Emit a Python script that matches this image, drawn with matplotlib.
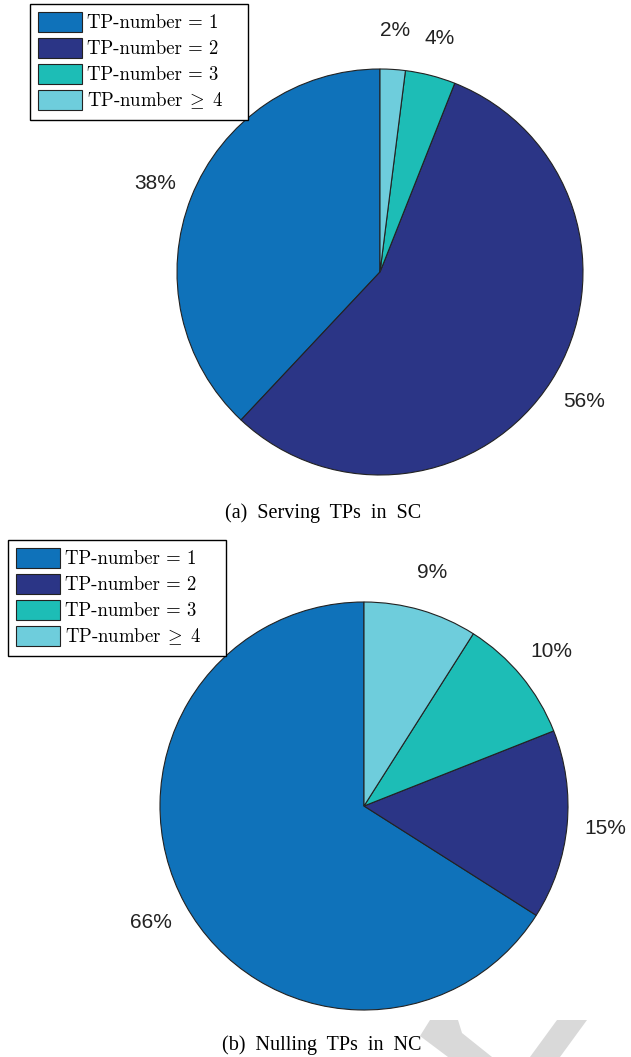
import matplotlib
matplotlib.use('Agg')
import matplotlib.pyplot as plt
from matplotlib.patches import Polygon, Rectangle

W, H = 631, 1057

legend_labels = ['TP-number = 1', 'TP-number = 2', 'TP-number = 3', r'TP-number$\;\geq\;$4']
colors = ['#0f72ba', '#2b3586', '#1dbdb6', '#6ecddc']
serving_sc = [38, 56, 4, 2]
nulling_nc = [66, 15, 10, 9]
captions = ['(a)  Serving  TPs  in  SC', '(b)  Nulling  TPs  in  NC']

plt.rcParams['mathtext.fontset'] = 'cm'

fig = plt.figure(figsize=(W / 100, H / 100), dpi=100)

# centre (px), radius (px), legend box (px), caption centre (px)
panels = [
    (serving_sc, (380, 272), 203, (30, 4, 218, 116), (323, 513), captions[0]),
    (nulling_nc, (364, 806), 204, (8, 540, 218, 116), (322, 1045), captions[1]),
]

half = 1.3
for vals, (cx, cy), r, (lx, ly, lw, lh), (tx, ty), cap in panels:
    size = 2 * r * half
    ax = fig.add_axes([(cx - size / 2) / W, (H - cy - size / 2) / H, size / W, size / H])
    wedges, _, autotexts = ax.pie(
        vals, colors=colors, startangle=90, counterclock=True,
        autopct='%d%%', pctdistance=1.19,
        wedgeprops=dict(edgecolor='#222222', linewidth=0.8),
        textprops=dict(family='Liberation Sans', fontsize=15, color='#222222'))
    ax.set_xlim(-half, half)
    ax.set_ylim(-half, half)
    ax.set_aspect('equal')
    ax.axis('off')
    for t in autotexts:
        t.set_clip_on(False)

    # legend box is a bit wider than its entries, so draw the frame separately
    fig.patches.append(Rectangle((lx / W, 1 - (ly + lh) / H), lw / W, lh / H,
                                 transform=fig.transFigure, facecolor='white',
                                 edgecolor='black', linewidth=1.0, zorder=4))
    leg = fig.legend(wedges, legend_labels, loc='upper left',
                     bbox_to_anchor=(lx / W, 1 - ly / H), borderaxespad=0,
                     frameon=False, prop=dict(family='cmr10', size=13.5),
                     handlelength=2.35, handleheight=1.3, handletextpad=0.28,
                     labelspacing=0.3, borderpad=0.4)
    leg.set_zorder(5)

    fig.text(tx / W, 1 - ty / H, cap, ha='center', va='center',
             family='Liberation Serif', fontsize=14.5)

# light grey draft chevrons along the bottom edge
marks = [
    [(430, 1020), (458, 1020), (462, 1033), (492, 1057), (448, 1057), (420, 1036)],
    [(557, 1020), (587, 1020), (560, 1057), (530, 1057)],
]
for pts in marks:
    fig.patches.append(Polygon([(x / W, 1 - y / H) for x, y in pts], closed=True,
                               transform=fig.transFigure, facecolor='#d9d9d9',
                               edgecolor='none', zorder=-1))

fig.savefig('out.png', dpi=100)
